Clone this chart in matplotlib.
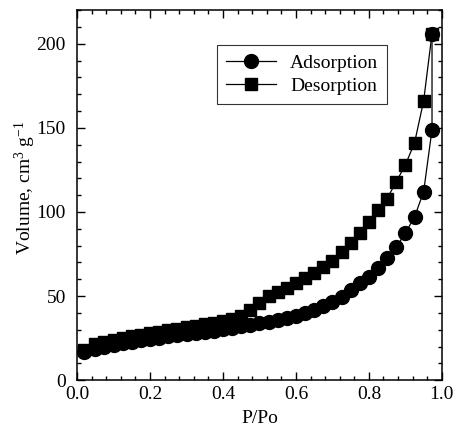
import numpy as np
import matplotlib
matplotlib.use("Agg")
import matplotlib.pyplot as plt
from matplotlib.ticker import MultipleLocator

plt.rcParams['font.family'] = 'Liberation Serif'
plt.rcParams['mathtext.fontset'] = 'custom'
plt.rcParams['mathtext.rm'] = 'Liberation Serif'
plt.rcParams['mathtext.it'] = 'Liberation Serif:italic'

# adsorption branch (P/Po, volume)
p_ads = [0.02, 0.05, 0.075, 0.1, 0.125, 0.15, 0.175, 0.2, 0.225, 0.25,
         0.275, 0.3, 0.325, 0.35, 0.375, 0.4, 0.425, 0.45, 0.475, 0.5,
         0.525, 0.55, 0.575, 0.6, 0.625, 0.65, 0.675, 0.7, 0.725, 0.75,
         0.775, 0.8, 0.825, 0.85, 0.875, 0.9, 0.925, 0.95, 0.973, 0.973]
v_ads = [16.8, 18.6, 19.9, 21.0, 22.0, 22.9, 23.7, 24.5, 25.2, 26.0,
         26.7, 27.4, 28.1, 28.8, 29.5, 30.3, 31.1, 31.9, 32.8, 33.7,
         34.7, 35.8, 37.0, 38.4, 40.0, 41.8, 43.8, 46.2, 49.5, 53.5,
         57.5, 61.5, 66.5, 72.5, 79.0, 87.5, 97.0, 112.0, 149.0, 206.0]

# desorption branch
p_des = [0.973, 0.95, 0.925, 0.9, 0.875, 0.85, 0.825, 0.8, 0.775, 0.75,
         0.725, 0.7, 0.675, 0.65, 0.625, 0.6, 0.575, 0.55, 0.525, 0.5,
         0.475, 0.45, 0.425, 0.4, 0.375, 0.35, 0.325, 0.3, 0.275, 0.25,
         0.225, 0.2, 0.175, 0.15, 0.125, 0.1, 0.075, 0.05, 0.02]
v_des = [206.0, 166.0, 141.0, 128.0, 118.0, 108.0, 101.0, 94.0, 87.5, 81.5,
         76.0, 71.0, 67.0, 63.5, 60.5, 57.5, 55.0, 52.5, 50.0, 46.0,
         41.5, 38.0, 36.3, 35.2, 34.2, 33.3, 32.4, 31.5, 30.6, 29.7,
         28.8, 27.9, 27.0, 26.0, 25.0, 24.0, 22.8, 21.2, 17.8]

fig = plt.figure(figsize=(4.56, 4.41), dpi=100)
ax = fig.add_axes([0.169, 0.138, 0.8, 0.839])

ax.plot(p_des, v_des, '-s', color='black', lw=0.9, ms=8.5, label='Desorption')
ax.plot(p_ads, v_ads, '-o', color='black', lw=0.9, ms=10, label='Adsorption')

ax.set_xlim(0, 1.0)
ax.set_ylim(0, 220)
ax.xaxis.set_major_locator(MultipleLocator(0.2))
ax.xaxis.set_minor_locator(MultipleLocator(0.04))
ax.yaxis.set_major_locator(MultipleLocator(50))
ax.yaxis.set_minor_locator(MultipleLocator(10))
ax.tick_params(which='both', direction='in', top=True, right=True, labelsize=14, width=1)
ax.tick_params(which='major', length=6)
ax.tick_params(which='minor', length=3)
ax.tick_params(axis='x', which='major', pad=4)
ax.tick_params(axis='y', which='major', pad=8)
ax.set_xticks([0, 0.2, 0.4, 0.6, 0.8, 1.0])
ax.set_xticklabels(['0.0', '0.2', '0.4', '0.6', '0.8', '1.0'])
for s in ax.spines.values():
    s.set_linewidth(1.1)

ax.set_xlabel('P/Po', fontsize=14, labelpad=5)
ax.set_ylabel('Volume, cm$^{3}$ g$^{-1}$', fontsize=14)
ax.yaxis.set_label_coords(-0.107, 0.52)

h, l = ax.get_legend_handles_labels()
leg = ax.legend(h[::-1], l[::-1], loc='upper left', bbox_to_anchor=(0.384, 0.905),
                fontsize=14, frameon=True, fancybox=False, edgecolor='black',
                handlelength=2.6, borderpad=0.45, labelspacing=0.3, handletextpad=0.7,
                borderaxespad=0)
leg.get_frame().set_linewidth(0.8)

fig.savefig('out.png', dpi=100)
